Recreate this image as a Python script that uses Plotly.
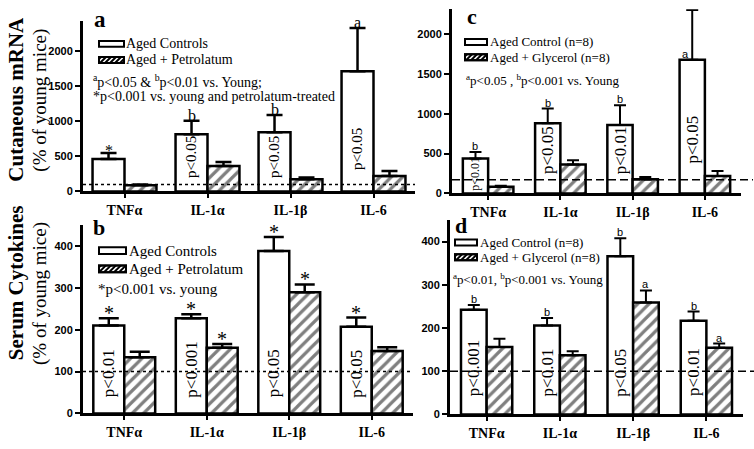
import plotly.graph_objects as go

W, H = 754, 449

categories = ["TNFα", "IL-1α", "IL-1β", "IL-6"]

# Panel a: Cutaneous mRNA, petrolatum
a_ctrl = [463, 815, 843, 1709]
a_ctrl_err = [85, 192, 243, 618]
a_trt = [88, 361, 173, 220]
a_trt_err = [10, 56, 24, 70]
a_ctrl_marks = ["*", "b", "b", "a"]
a_trt_marks = ["", "", "", ""]
a_inside = ["", "p<0.05", "p<0.05", "p<0.05"]

# Panel b: Serum cytokines, petrolatum
b_ctrl = [210, 227, 388, 207]
b_ctrl_err = [17, 10, 33, 22]
b_trt = [134, 157, 289, 149]
b_trt_err = [13, 9, 19, 9]
b_ctrl_marks = ["*", "*", "*", "*"]
b_trt_marks = ["", "*", "*", ""]
b_inside = ["p<0.01", "p<0.001", "p<0.05", "p<0.05"]

# Panel c: Cutaneous mRNA, glycerol
c_ctrl = [437, 879, 858, 1679]
c_ctrl_err = [83, 185, 247, 623]
c_trt = [83, 363, 177, 219]
c_trt_err = [12, 54, 30, 62]
c_ctrl_marks = ["b", "b", "b", "a"]
c_trt_marks = ["", "", "", ""]
c_inside = ["p<0.01", "p<0.05", "p<0.01", "p<0.05"]

# Panel d: Serum cytokines, glycerol
d_ctrl = [242, 206, 366, 217]
d_ctrl_err = [11, 17, 42, 21]
d_trt = [156, 137, 259, 154]
d_trt_err = [19, 9, 28, 10]
d_ctrl_marks = ["b", "b", "b", "b"]
d_trt_marks = ["", "", "a", "a"]
d_inside = ["p<0.001", "p<0.01", "p<0.05", "p<0.01"]

ref_values = {"a": 100, "b": 100, "c": 170, "d": 100}

SERIF = "Liberation Serif, Times New Roman, serif"
SANS = "Liberation Sans, Arial, sans-serif"


def px(x):
    return x / W


def py(y):
    return 1 - y / H


panels = [
    dict(key="a", n="", xd=(83, 415), yd=(194, 21.7), yr=(0, 2420), dtick=500,
         ctrl=a_ctrl, ctrl_err=a_ctrl_err, trt=a_trt, trt_err=a_trt_err,
         cm=a_ctrl_marks, tm=a_trt_marks, inside=a_inside,
         names=("Aged Controls", "Aged + Petrolatum"), w=0.385, errw=8, errt=2.5,
         dash="3px,3px", markfont=(SERIF, 16), insfont=15, insshift=12,
         legbox=(99, 124, 44.5, 60.8, 6), legtext=125, legsize=14, lab=(93, 20, 23)),
    dict(key="b", n="2", xd=(83, 413), yd=(419, 228), yr=(0, 450), dtick=100,
         ctrl=b_ctrl, ctrl_err=b_ctrl_err, trt=b_trt, trt_err=b_trt_err,
         cm=b_ctrl_marks, tm=b_trt_marks, inside=b_inside,
         names=("Aged Controls", "Aged + Petrolatum"), w=0.375, errw=10, errt=2.5,
         dash="3px,3px", markfont=(SERIF, 20), insfont=17, insshift=15,
         legbox=(99, 126, 254, 272.5, 7), legtext=128, legsize=15, lab=(92, 231, 22)),
    dict(key="c", n="3", xd=(452, 741), yd=(196, 9.5), yr=(0, 2310), dtick=500,
         ctrl=c_ctrl, ctrl_err=c_ctrl_err, trt=c_trt, trt_err=c_trt_err,
         cm=c_ctrl_marks, tm=c_trt_marks, inside=c_inside,
         names=("Aged Control (n=8)", "Aged + Glycerol (n=8)"), w=0.35, errw=6, errt=2,
         dash="8px,4px", markfont=(SANS, 11), insfont=17, insshift=18,
         legbox=(465, 487, 42.5, 58, 6), legtext=489, legsize=13, lab=(466, 17, 22)),
    dict(key="d", n="4", xd=(450, 743), yd=(420, 223), yr=(0, 450), dtick=100,
         ctrl=d_ctrl, ctrl_err=d_ctrl_err, trt=d_trt, trt_err=d_trt_err,
         cm=d_ctrl_marks, tm=d_trt_marks, inside=d_inside,
         names=("Aged Control (n=8)", "Aged + Glycerol (n=8)"), w=0.35, errw=6, errt=2,
         dash="8px,4px", markfont=(SANS, 11), insfont=17, insshift=17,
         legbox=(455, 477, 245.8, 260.8, 6), legtext=478.5, legsize=13, lab=(454, 229, 22)),
]

fig = go.Figure()
annotations = []
shapes = []
layout = dict(
    width=W, height=H, margin=dict(l=0, r=0, t=0, b=0),
    paper_bgcolor="white", plot_bgcolor="white", showlegend=False,
    font=dict(family=SERIF, color="black"),
)


def hatch_box(x0, x1, yc, h, hatched):
    """Legend swatch drawn in pixel space (converted to paper)."""
    y0, y1 = yc - h / 2.0, yc + h / 2.0
    out = [dict(type="rect", xref="paper", yref="paper",
                x0=px(x0), x1=px(x1), y0=py(y1), y1=py(y0),
                fillcolor="white", line=dict(color="black", width=2), layer="above")]
    if hatched:
        step = 5.0
        k = x0 + y0 + 2
        while k < x1 + y1 - 1:
            xa = max(x0, k - y1)
            xb = min(x1, k - y0)
            if xb > xa:
                out.append(dict(type="line", xref="paper", yref="paper",
                                x0=px(xa), y0=py(k - xa), x1=px(xb), y1=py(k - xb),
                                line=dict(color="black", width=2), layer="above"))
            k += step
        out.append(dict(type="rect", xref="paper", yref="paper",
                        x0=px(x0), x1=px(x1), y0=py(y1), y1=py(y0),
                        fillcolor="rgba(0,0,0,0)", line=dict(color="black", width=2),
                        layer="above"))
    return out


for p in panels:
    n = p["n"]
    xa, ya = "x" + n, "y" + n
    cat_px = (p["xd"][1] - p["xd"][0]) / 4.0
    half = p["w"] * cat_px / 2.0

    fig.add_trace(go.Bar(
        x=categories, y=p["ctrl"], width=p["w"], offset=-p["w"],
        name=p["names"][0], xaxis=xa, yaxis=ya,
        marker=dict(color="white", line=dict(color="black", width=2.5)),
        error_y=dict(type="data", array=p["ctrl_err"], arrayminus=[0] * 4,
                     symmetric=False, color="black", thickness=p["errt"], width=p["errw"]),
    ))
    fig.add_trace(go.Bar(
        x=categories, y=p["trt"], width=p["w"], offset=0,
        name=p["names"][1], xaxis=xa, yaxis=ya,
        marker=dict(color="white", line=dict(color="black", width=2.5),
                    pattern=dict(shape="/", fgcolor="black", bgcolor="white",
                                 size=8, solidity=0.4)),
        error_y=dict(type="data", array=p["trt_err"], arrayminus=[0] * 4,
                     symmetric=False, color="black", thickness=p["errt"], width=p["errw"]),
    ))

    layout["xaxis" + n] = dict(
        domain=[px(p["xd"][0]), px(p["xd"][1])], anchor=ya, type="category",
        range=[-0.5, 3.5], showline=True, linecolor="black", linewidth=3,
        ticks="outside", ticklen=4, tickwidth=2, tickcolor="black",
        tickfont=dict(family=SERIF, size=14, color="black", weight="bold"),
        showgrid=False, zeroline=False, fixedrange=True,
    )
    layout["yaxis" + n] = dict(
        domain=[py(p["yd"][0]), py(p["yd"][1])], anchor=xa,
        range=list(p["yr"]), dtick=p["dtick"], tick0=0,
        showline=True, linecolor="black", linewidth=3,
        ticks="outside", ticklen=5, tickwidth=2, tickcolor="black",
        tickfont=dict(family=SANS, size=11, color="black", weight="bold"),
        showgrid=False, zeroline=False, fixedrange=True,
    )

    # reference (young) line
    shapes.append(dict(
        type="line", xref="paper", yref=ya,
        x0=px(p["xd"][0]), x1=px(p["xd"][1] + (12 if p["key"] in "cd" else 0)),
        y0=ref_values[p["key"]], y1=ref_values[p["key"]],
        line=dict(color="black", width=1.5, dash=p["dash"]), layer="above",
    ))

    # legend (manual)
    bx0, bx1, r1, r2, bh = p["legbox"]
    shapes.extend(hatch_box(bx0, bx1, r1, bh, False))
    shapes.extend(hatch_box(bx0, bx1, r2, bh, True))
    for ry, name in ((r1, p["names"][0]), (r2, p["names"][1])):
        annotations.append(dict(
            x=px(p["legtext"]), y=py(ry), xref="paper", yref="paper", text=name,
            showarrow=False, xanchor="left", yanchor="middle", align="left",
            borderpad=0, font=dict(family=SERIF, size=p["legsize"], color="black"),
        ))

    # significance marks above bars
    for i, c in enumerate(categories):
        for marks, vals, errs, sh in ((p["cm"], p["ctrl"], p["ctrl_err"], -half),
                                      (p["tm"], p["trt"], p["trt_err"], half)):
            if not marks[i]:
                continue
            yv = vals[i] + errs[i]
            xs = sh
            ys = -1
            if marks[i] == "*":
                ys = -7
            elif p["markfont"][0] == SERIF:
                ys = -4
            if p["key"] == "c" and i == 3:
                yv = vals[i]
                xs = sh - 7
            annotations.append(dict(
                x=c, y=yv, xref=xa, yref=ya, xshift=xs, yshift=ys,
                text=marks[i], showarrow=False, yanchor="bottom", xanchor="center",
                borderpad=0,
                font=dict(family=p["markfont"][0], size=p["markfont"][1], color="black"),
            ))
        # rotated text inside control bars
        if p["inside"][i]:
            fs = p["insfont"]
            shift = p["insshift"]
            if p["key"] == "c" and i == 0:
                fs, shift = 12, 2
            if p["key"] == "c" and i == 3:
                shift = 29
            if p["key"] == "a" and i == 3:
                shift = 20
            annotations.append(dict(
                x=c, y=0, xref=xa, yref=ya, xshift=-half, yshift=shift,
                text=p["inside"][i].replace("<", "&lt;"), textangle=-90,
                showarrow=False, yanchor="bottom", xanchor="center", align="left",
                borderpad=0, font=dict(family=SERIF, size=fs, color="black"),
            ))

    # panel letter
    lx, ly, ls = p["lab"]
    annotations.append(dict(
        x=px(lx), y=py(ly), xref="paper", yref="paper", text="<b>%s</b>" % p["key"],
        showarrow=False, xanchor="left", yanchor="middle", align="left", borderpad=0,
        font=dict(family=SERIF, size=ls, color="black"),
    ))

# statistics notes
notes = [
    (92, 82, 14, "<sup>a</sup>p&lt;0.05 &amp; <sup>b</sup>p&lt;0.01 vs. Young;"),
    (92, 98, 14, "*p&lt;0.001 vs. young and petrolatum-treated"),
    (97, 293, 15, "*p&lt;0.001 vs. young"),
    (465, 81, 13, "<sup>a</sup>p&lt;0.05 , <sup>b</sup>p&lt;0.001 vs. Young"),
    (452, 283, 13, "<sup>a</sup>p&lt;0.01, <sup>b</sup>p&lt;0.001 vs. Young"),
]
for x, y, s, t in notes:
    annotations.append(dict(
        x=px(x), y=py(y), xref="paper", yref="paper", text=t, showarrow=False,
        xanchor="left", yanchor="middle", align="left", borderpad=0,
        font=dict(family=SERIF, size=s, color="black"),
    ))

# y-axis titles
titles = [
    (16, 101, 21, "<b>Cutaneous mRNA</b>"),
    (40, 102, 19, "(% of young mice)"),
    (16, 287, 21, "<b>Serum Cytokines</b>"),
    (40, 298, 19, "(% of young mice)"),
]
for x, y, s, t in titles:
    annotations.append(dict(
        x=px(x), y=py(y), xref="paper", yref="paper", text=t, showarrow=False,
        textangle=-90, xanchor="center", yanchor="middle", borderpad=0,
        font=dict(family=SERIF, size=s, color="black"),
    ))

layout["annotations"] = annotations
layout["shapes"] = shapes
layout["barmode"] = "overlay"
fig.update_layout(**layout)

fig.write_html(
    "out.html",
    config={"displayModeBar": False},
    post_script="document.body.style.margin='0';document.body.style.padding='0';",
)
